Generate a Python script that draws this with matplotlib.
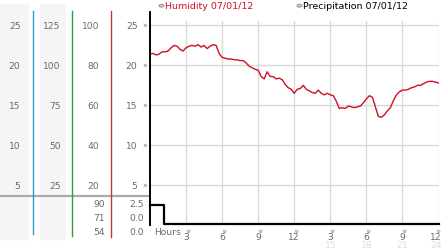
import matplotlib
matplotlib.use("Agg")
import matplotlib.pyplot as plt
from matplotlib.lines import Line2D
from matplotlib.patches import Rectangle, Circle
from matplotlib.transforms import blended_transform_factory as btf

# ---------------- data ----------------
hours = [i * 0.25 for i in range(97)]
humidity = [21.4, 21.5, 21.3, 21.4, 21.7, 21.7, 21.8, 22.2, 22.5, 22.4, 22.0, 21.8,
            22.2, 22.4, 22.5, 22.4, 22.6, 22.3, 22.5, 22.1, 22.4, 22.6, 22.5, 21.5,
            21.0, 20.9, 20.8, 20.8, 20.7, 20.7, 20.6, 20.6, 20.3, 19.9, 19.7, 19.5,
            19.4, 18.6, 18.3, 19.2, 18.6, 18.6, 18.3, 18.4, 18.2, 17.6, 17.2, 17.0,
            16.5, 17.0, 17.1, 17.5, 17.0, 16.8, 16.6, 16.5, 16.9, 16.5, 16.3, 16.5,
            16.3, 16.2, 15.5, 14.6, 14.7, 14.6, 14.9, 14.8, 14.7, 14.8, 14.9, 15.3,
            15.8, 16.2, 16.0, 14.8, 13.6, 13.5, 13.8, 14.3, 14.7, 15.6, 16.3, 16.7,
            16.9, 16.9, 17.0, 17.2, 17.3, 17.5, 17.5, 17.7, 17.9, 18.0, 18.0, 17.9, 17.8]
precip_hours = [0, 1.2, 24]
precipitation = [2.5, 0.0, 0.0]

hum_ticks = [25, 20, 15, 10, 5]
col1_labels = ["25", "20", "15", "10", "5"]
col2_labels = ["125", "100", "75", "50", "25"]
col3_labels = ["100", "80", "60", "40", "20"]
hum_labels = ["25", "20", "15", "10", "5"]
low_col3_labels = ["90", "71", "54"]
low_precip_labels = ["2.5", "0.0", "0.0"]
x_ticks = [3, 6, 9, 12, 15, 18, 21, 24]
x_labels = ["3", "6", "9", "12", "3", "6", "9", "12"]
x_labels2 = ["15", "18", "21", "24"]
legend_labels = ["Humidity 07/01/12", "Precipitation 07/01/12"]

# ---------------- layout ----------------
W, H = 442, 253
fig = plt.figure(figsize=(W / 100, H / 100), dpi=100)
fig.patch.set_facecolor("white")

def fx(p):
    return p / W

def fy(p):
    return 1 - p / H

FONT = "DejaVu Sans"
FS = 6.6
GRAY = "#6a6a6a"
GRID = "#d9d9d9"

# upper axes (humidity)
x0, x1 = 150, 438.5
ax = fig.add_axes([fx(x0), fy(197), fx(x1) - fx(x0), fy(22) - fy(197)])
ax.set_xlim(0, 24)
ax.set_ylim(3.63, 25.56)
# lower axes (precipitation)
axl = fig.add_axes([fx(x0), fy(225), fx(x1) - fx(x0), fy(197) - fy(225)])
axl.set_xlim(0, 24)
axl.set_ylim(0, 3.68)

for a in (ax, axl):
    a.set_facecolor("none")
    for s in a.spines.values():
        s.set_visible(False)
    a.set_xticks(x_ticks)
    a.tick_params(length=0, labelbottom=False, labelleft=False)
    a.grid(True, axis="x", color=GRID, lw=1.0)
ax.set_yticks(hum_ticks)
ax.grid(True, axis="y", color=GRID, lw=1.0)
axl.set_yticks([])

ax.plot(hours, humidity, color="#cc1122", lw=1.0, zorder=3)
axl.step(precip_hours, precipitation, where="post", color="black", lw=1.6,
         clip_on=False, zorder=3)

# left column backgrounds
for (a, b) in [(0, 28), (40, 65)]:
    fig.patches.append(Rectangle((fx(a), fy(240)), fx(b) - fx(a), fy(5) - fy(240),
                                 transform=fig.transFigure, color="#f5f5f5", zorder=0))

# separator line
fig.lines.append(Line2D([fx(0), fx(149)], [fy(197), fy(197)], transform=fig.transFigure,
                        color="#aaaaaa", lw=1.6))
# colored vertical lines
for xp, c, yb in [(33, "#3399cc", 235), (72, "#33a033", 237), (111, "#cc3333", 238)]:
    fig.lines.append(Line2D([fx(xp), fx(xp)], [fy(12), fy(yb)], transform=fig.transFigure,
                            color=c, lw=1.0))
# black axis
fig.lines.append(Line2D([fx(149.5), fx(149.5)], [fy(13), fy(225.5)], transform=fig.transFigure,
                        color="black", lw=1.4))

# left column labels
tr = btf(fig.transFigure, ax.transData)
for v, l1, l2, l3, l4 in zip(hum_ticks, col1_labels, col2_labels, col3_labels, hum_labels):
    fig.text(fx(20.5), v, l1, transform=tr, ha="right", va="center", fontsize=FS, color=GRAY, family=FONT)
    fig.text(fx(60.5), v, l2, transform=tr, ha="right", va="center", fontsize=FS, color=GRAY, family=FONT)
    fig.text(fx(99.5), v, l3, transform=tr, ha="right", va="center", fontsize=FS, color=GRAY, family=FONT)
    fig.text(fx(137.5), v, l4, transform=tr, ha="right", va="center", fontsize=FS, color=GRAY, family=FONT)
    fig.text(fx(145), v, "»", transform=tr, ha="center", va="center", fontsize=5.5, color="#777777", family=FONT)

for yp, a, b in zip([204.5, 218.3, 232.3], low_col3_labels, low_precip_labels):
    fig.text(fx(105), fy(yp), a, ha="right", va="center", fontsize=FS, color=GRAY, family=FONT)
    fig.text(fx(144), fy(yp), b, ha="right", va="center", fontsize=FS, color=GRAY, family=FONT)

# x labels
trx = btf(ax.transData, fig.transFigure)
fig.text(fx(154), fy(233), "Hours", ha="left", va="center", fontsize=FS, color=GRAY, family=FONT)
for t, l in zip(x_ticks, x_labels):
    xt = min(t, 23.8)
    fig.text(xt, fy(230.5), "»", transform=trx, ha="center", va="center", fontsize=5.5,
             color="#777777", rotation=-90, family=FONT)
    fig.text(xt, fy(238), l, transform=trx, ha="center", va="center", fontsize=FS, color=GRAY, family=FONT)
for t, l in zip(x_ticks[4:], x_labels2):
    xt = min(t, 23.8)
    fig.text(xt, fy(245.5), l, transform=trx, ha="center", va="center", fontsize=FS, color="#dddddd", family=FONT)

# legend
for cx, txt, col in [(161.5, legend_labels[0], "#cc1122"), (299.5, legend_labels[1], "black")]:
    fig.patches.append(Circle((fx(cx), fy(6.7)), 2.5 / W, transform=fig.transFigure,
                              facecolor="#cccccc", edgecolor="#888888", lw=0.6))
    fig.text(fx(cx + 3.5), fy(6.7), txt, ha="left", va="center", fontsize=6.8, color=col, family=FONT)

fig.savefig("out.png", dpi=100)
